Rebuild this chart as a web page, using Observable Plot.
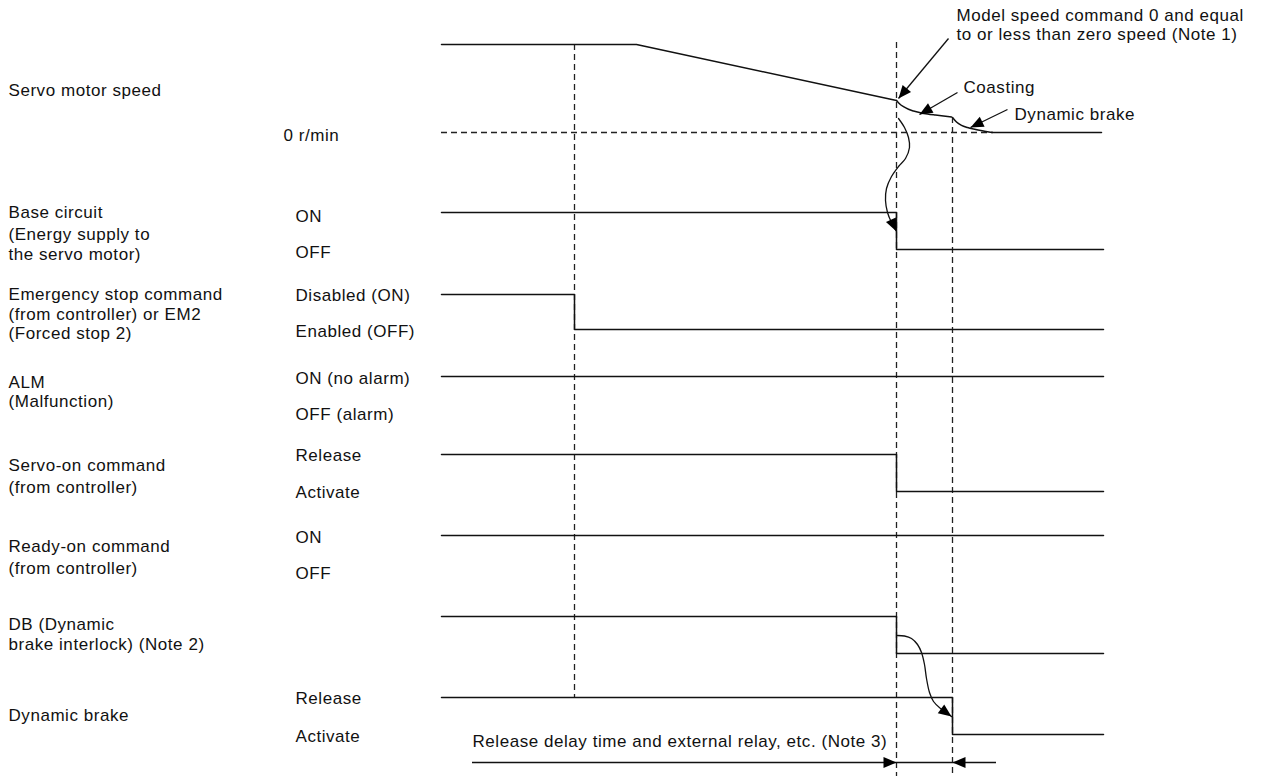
<!DOCTYPE html>
<html>
<head>
<meta charset="utf-8">
<script src="https://cdn.jsdelivr.net/npm/d3@7"></script>
<script src="https://cdn.jsdelivr.net/npm/@observablehq/plot@0.6"></script>
<style>
  html, body { margin: 0; padding: 0; background: #ffffff; }
  #chart svg { display: block; }
  #chart svg text { letter-spacing: 0.55px; }
</style>
</head>
<body>
<div id="chart"></div>
<script>
// ---------- Data (diagram units: time along x, signal level along y) ----------
const timeStart = 441;
const timeEnd = 1103;

// signal rows: level positions for high / low state and the switching time
const signalRows = ["Servo motor speed", "Base circuit", "Emergency stop", "ALM", "Servo-on", "Ready-on", "DB", "Dynamic brake"];
const levelHigh  = [44, 212, 294, 376, 454, 535, 616, 697];
const levelLow   = [132, 249, 329, 413, 491, 572, 653, 734];
const switchAt   = [null, 896, 574, null, 896, null, 896, 952];

// servo motor speed waveform
const decelT = [441, 636, 896];
const decelV = [44, 44, 100];
const coastT = [896, 899, 903, 908, 913, 920, 927, 935, 943, 951];
const coastV = [100, 103.2, 106.2, 108.8, 110.5, 112.2, 113.5, 114.6, 115.6, 116.5];
const brakeT = [952, 956, 961, 967, 973, 983, 993, 1101];
const brakeV = [117, 121.5, 124.8, 127, 128.6, 130.6, 132, 132];

// zero-speed reference and timing guides
const zeroLevel = 132, zeroFrom = 441, zeroTo = 993;
const guideX      = [574, 896, 952];
const guideTop    = [44, 42, 117];
const guideBottom = [697, 776, 776];

// curved cause/effect pointers
const pointerA_T = [898, 904, 908, 909, 905, 898, 891, 886, 885, 887, 891, 896];
const pointerA_V = [118, 127, 137, 147, 158, 166, 176, 188, 200, 212, 222, 231];
const pointerB_T = [897, 904, 911, 917, 921, 924, 926, 929, 933, 940, 946, 951];
const pointerB_V = [635, 635.5, 638, 644, 652, 664, 678, 692, 701, 708, 712, 716];

// straight leader arrows for the annotations
const leaderFromT = [948, 957, 1007];
const leaderFromV = [38, 92, 109];
const leaderTipT  = [898, 919, 970];
const leaderTipV  = [98, 114, 127];

// dimension arrow (release delay)
const dimLevel = 762, dimFrom = 472, dimTo = 996;
const dimTips = [896, 952];
const dimDir  = ["right", "left"];

// text
const nameLines = ["Servo motor speed", "Base circuit", "(Energy supply to", "the servo motor)",
  "Emergency stop command", "(from controller) or EM2", "(Forced stop 2)", "ALM", "(Malfunction)",
  "Servo-on command", "(from controller)", "Ready-on command", "(from controller)",
  "DB (Dynamic", "brake interlock) (Note 2)", "Dynamic brake"];
const nameBaselines = [95, 217, 239, 259, 299.5, 319, 338.5, 387, 406.5, 470, 492, 551, 573, 629.5, 649, 720];

const stateLines = ["0 r/min", "ON", "OFF", "Disabled (ON)", "Enabled (OFF)", "ON (no alarm)", "OFF (alarm)",
  "Release", "Activate", "ON", "OFF", "Release", "Activate"];
const stateX = [283, 295, 295, 295, 295, 295, 295, 295, 295, 295, 295, 295, 295];
const stateBaselines = [140, 221, 257, 300, 336, 383, 419, 460, 497, 542, 578, 703, 741];

const noteLines = ["Model speed command 0 and equal", "to or less than zero speed (Note 1)", "Coasting", "Dynamic brake",
  "Release delay time and external relay, etc. (Note 3)"];
const noteX = [956, 956, 963, 1014, 472];
const noteBaselines = [20, 39.5, 92, 119, 746];

// ---------- Build tables ----------
const W = 1261, H = 776;
const FS = 17;
const INK = "#111";

const wave = [];
signalRows.forEach((name, i) => {
  if (i === 0) return;
  wave.push({row: name, t: timeStart, v: levelHigh[i]});
  if (switchAt[i] != null) {
    wave.push({row: name, t: switchAt[i], v: levelLow[i]});
    wave.push({row: name, t: timeEnd, v: levelLow[i]});
  } else {
    wave.push({row: name, t: timeEnd, v: levelHigh[i]});
  }
});

const decel = decelT.map((t, i) => ({t, v: decelV[i]}));
const curves = [
  ...coastT.map((t, i) => ({seg: "coast", t, v: coastV[i]})),
  ...brakeT.map((t, i) => ({seg: "brake", t, v: brakeV[i]}))
];
const guides = guideX.map((t, i) => ({t, top: guideTop[i], bottom: guideBottom[i]}));
const pointers = [
  ...pointerA_T.map((t, i) => ({id: "A", t, v: pointerA_V[i]})),
  ...pointerB_T.map((t, i) => ({id: "B", t, v: pointerB_V[i]}))
];
const leaders = leaderFromT.map((t, i) => ({t1: t, v1: leaderFromV[i], t2: leaderTipT[i], v2: leaderTipV[i]}));

const angleOf = (dx, dy) => Math.atan2(dx, -dy) * 180 / Math.PI;
const heads = [];
leaders.forEach(d => heads.push({t: d.t2, v: d.v2, a: angleOf(d.t2 - d.t1, d.v2 - d.v1)}));
[[pointerA_T, pointerA_V], [pointerB_T, pointerB_V]].forEach(([T, V]) => {
  const n = T.length;
  heads.push({t: T[n - 1], v: V[n - 1], a: angleOf(T[n - 1] - T[n - 3], V[n - 1] - V[n - 3])});
});
dimTips.forEach((t, i) => heads.push({t, v: dimLevel, a: dimDir[i] === "right" ? 90 : 270}));

// filled arrow head, tip at the anchor point, pointing up before rotation
const arrowHead = {
  draw(ctx) {
    const L = 13, h = 5.5;
    ctx.moveTo(0, 0);
    ctx.lineTo(-h, L);
    ctx.lineTo(h, L);
    ctx.closePath();
  }
};

const names = nameLines.map((s, i) => ({s, x: 8, y: nameBaselines[i]}));
const states = stateLines.map((s, i) => ({s, x: stateX[i], y: stateBaselines[i]}));
const notes = noteLines.map((s, i) => ({s, x: noteX[i], y: noteBaselines[i]}));
const texts = [...names, ...states, ...notes];

// ---------- Plot ----------
const chart = Plot.plot({
  width: W,
  height: H,
  margin: 0,
  x: {domain: [0, W], range: [0, W], axis: null},
  y: {domain: [0, H], range: [0, H], axis: null},
  style: {fontFamily: "'Liberation Sans', Arial, sans-serif", background: "#ffffff", color: INK},
  marks: [
    // dashed timing guides and zero-speed reference
    Plot.ruleX(guides, {x: "t", y1: "top", y2: "bottom", stroke: "#222", strokeWidth: 1.3, strokeDasharray: "6,4"}),
    Plot.ruleY([zeroLevel], {y: d => d, x1: zeroFrom, x2: zeroTo, stroke: "#222", strokeWidth: 1.3, strokeDasharray: "6,4"}),
    // speed waveform
    Plot.line(decel, {x: "t", y: "v", stroke: INK, strokeWidth: 1.5}),
    Plot.line(curves, {x: "t", y: "v", z: "seg", curve: "monotone-x", stroke: INK, strokeWidth: 1.5}),
    // digital signals
    Plot.line(wave, {x: "t", y: "v", z: "row", curve: "step-after", stroke: INK, strokeWidth: 1.5}),
    // curved pointers
    Plot.line(pointers, {x: "t", y: "v", z: "id", curve: "catmull-rom", stroke: INK, strokeWidth: 1.3}),
    // leader lines
    Plot.link(leaders, {x1: "t1", y1: "v1", x2: "t2", y2: "v2", stroke: INK, strokeWidth: 1.3}),
    // dimension line
    Plot.ruleY([dimLevel], {y: d => d, x1: dimFrom, x2: dimTo, stroke: INK, strokeWidth: 1.3}),
    // arrow heads
    Plot.dot(heads, {x: "t", y: "v", rotate: "a", symbol: arrowHead, r: 10, fill: "#000", stroke: null}),
    // text
    Plot.text(texts, {x: "x", y: "y", text: "s", textAnchor: "start", lineAnchor: "bottom", fontSize: FS, fill: INK})
  ]
});
document.getElementById("chart").appendChild(chart);
</script>
</body>
</html>
